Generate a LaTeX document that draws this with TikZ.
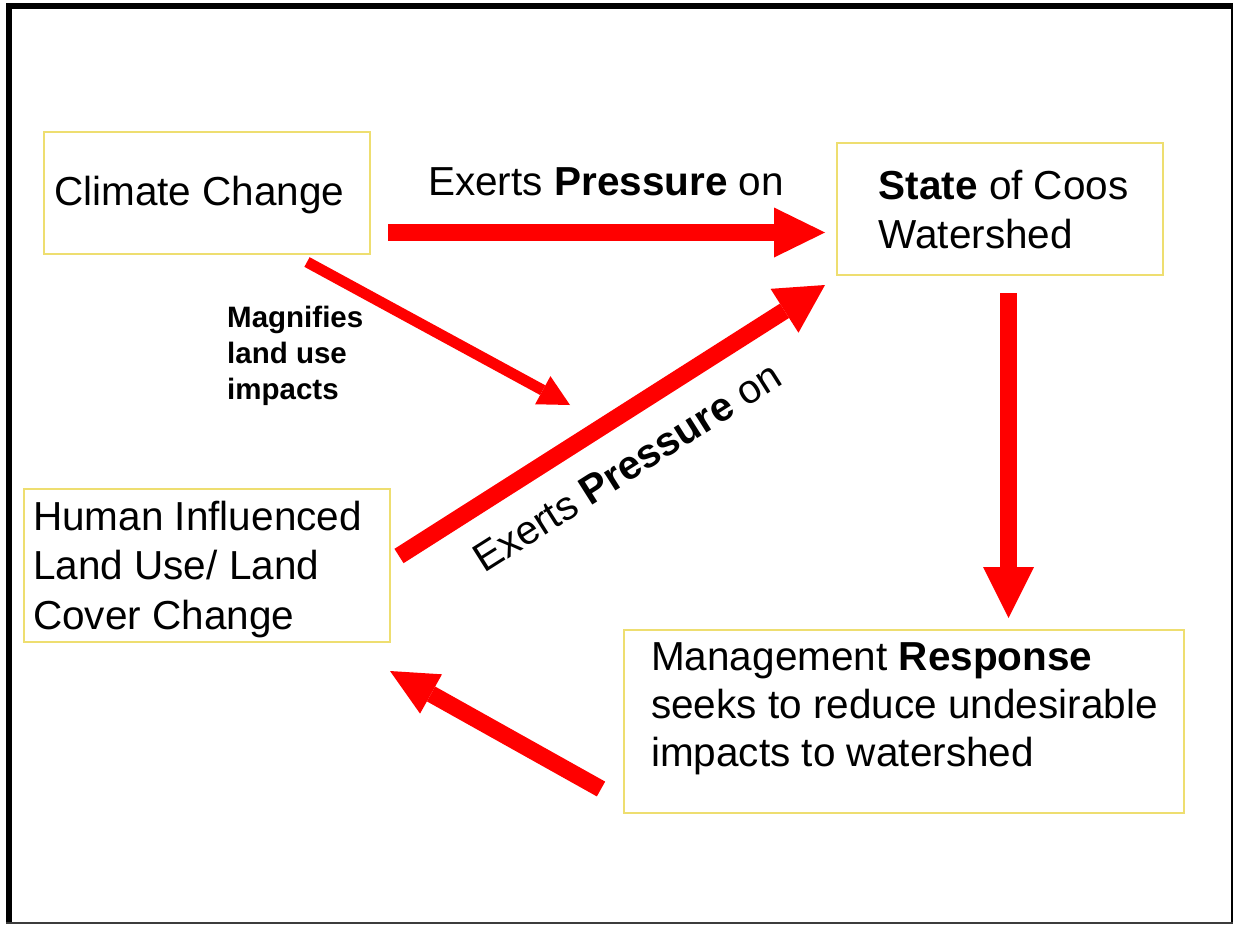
\documentclass[tikz,border=0pt]{standalone}
\usepackage{fontspec}
\setmainfont{Liberation Sans}
\usetikzlibrary{arrows.meta}
\definecolor{boxyellow}{RGB}{238,222,112}
\definecolor{arrowred}{RGB}{255,0,0}
\definecolor{framegray}{RGB}{60,60,60}
\begin{document}
\begin{tikzpicture}[x=1pt,y=-1pt,
  box/.style={draw=boxyellow, line width=1.8pt, inner sep=0pt, anchor=north west},
  txt/.style={inner sep=0pt, align=left, font=\fontsize{40.5}{48.5}\selectfont},
  smalltxt/.style={inner sep=0pt, align=left, font=\fontsize{29.5}{36}\selectfont\bfseries},
  blockarrow/.style n args={3}{draw=arrowred, line width=#1,
    -{Triangle[length=#2, width=#3, line width=0pt]}},
]
% page and frame
\fill[white] (0,0) rectangle (1233,924);
\useasboundingbox (0,0) rectangle (1233,924);
\fill[black] (6,3) rectangle (12,924);
\fill[black] (6,3) rectangle (1232.5,9);
\fill[black] (1230.5,3) rectangle (1232.5,924);
\fill[framegray] (6,921.5) rectangle (1233,923.5);

% boxes
\node[box, minimum width=326pt, minimum height=122pt] (climate) at (43,131) {};
\node[box, minimum width=326pt, minimum height=132pt] (state) at (836,142) {};
\node[box, minimum width=366pt, minimum height=153pt] (landuse) at (23,488) {};
\node[box, minimum width=560pt, minimum height=183pt] (response) at (623,629) {};

% box texts
\node[txt, anchor=base west] (climate-t) at (54,205) {Climate Change};
\node[txt, anchor=north west] (state-t) at (878.5,170) {\textbf{State} of Coos\\Watershed};
\node[txt, anchor=north west, font=\fontsize{40.5}{49.5}\selectfont] (landuse-t) at (33,500.5)
  {Human Influenced\\Land Use/ Land\\Cover Change};
\node[txt, anchor=north west, font=\fontsize{40.5}{48}\selectfont] (response-t) at (651,642.5)
  {Management \textbf{Response}\\seeks to reduce undesirable\\impacts to watershed};

% arrow end points
\coordinate (cc-out) at (388,232.5);
\coordinate (st-in) at (825,232.5);
\coordinate (mag-out) at (307,262);
\coordinate (mag-in) at (570,405);
\coordinate (lu-out) at (399,556);
\coordinate (st-in2) at (825,285);
\coordinate (st-out) at (1008.5,293);
\coordinate (rs-in) at (1008.5,618);
\coordinate (rs-out) at (601,789);
\coordinate (lu-in) at (390,671);

% connectors
\draw[blockarrow={16.5pt}{51pt}{50pt}] (cc-out) -- (st-in);
\draw[blockarrow={11pt}{31pt}{32pt}] (mag-out) -- (mag-in);
\draw[blockarrow={17pt}{48pt}{52pt}] (lu-out) -- (st-in2);
\draw[blockarrow={16.7pt}{51pt}{51pt}] (st-out) -- (rs-in);
\draw[blockarrow={17pt}{47pt}{45pt}] (rs-out) -- (lu-in);

% connector labels
\node[txt, anchor=base west] (press1) at (428,195) {Exerts \textbf{Pressure} on};
\node[smalltxt, anchor=north west] (magnify) at (227,305.5) {Magnifies\\land use\\impacts};
\node[txt, anchor=base west, rotate=32.3] (press2) at (484,574) {Exerts \textbf{Pressure} on};
\end{tikzpicture}
\end{document}
